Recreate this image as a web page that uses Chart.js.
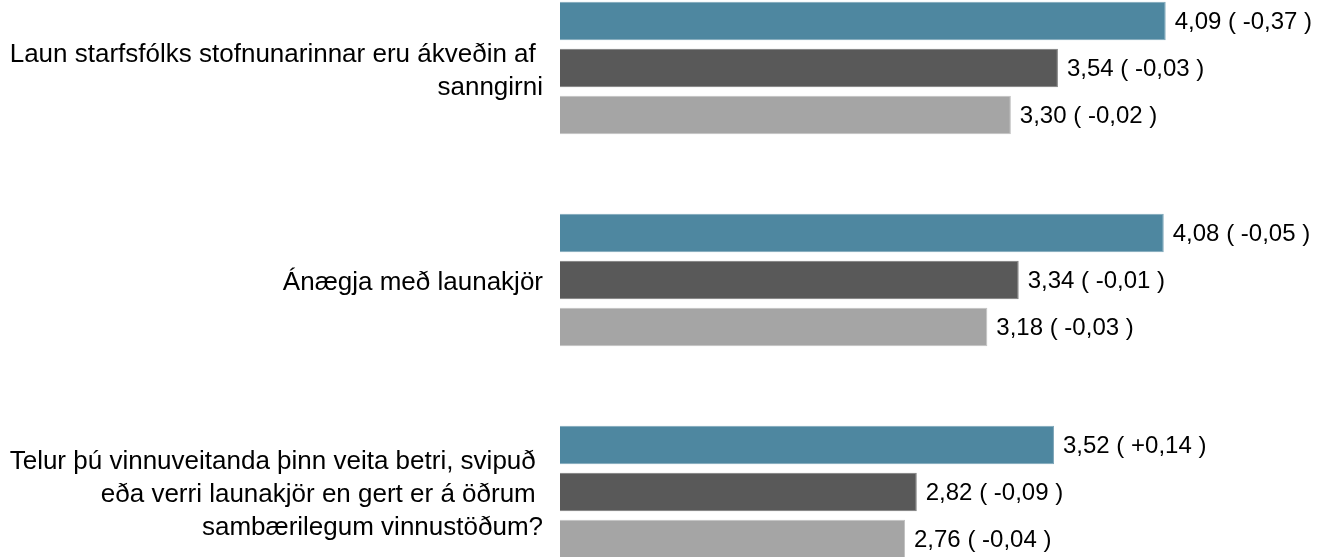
<!DOCTYPE html>
<html>
<head>
<meta charset="utf-8">
<script src="https://cdn.jsdelivr.net/npm/chart.js@4/dist/chart.umd.min.js"></script>
<style>
  html, body { margin: 0; padding: 0; background: #fff; overflow: hidden; }
</style>
</head>
<body>
<canvas id="bar-chart-grouped" width="1319" height="557"></canvas>
<script>
// spurningar (flokkar)
const categories = [
  ["Laun starfsfólks stofnunarinnar eru ákveðin af ", "sanngirni"],
  "Ánægja með launakjör",
  ["Telur þú vinnuveitanda þinn veita betri, svipuð ", "eða verri launakjör en gert er á öðrum ", "sambærilegum vinnustöðum?"]
];

// meðaltöl per röð
const seriesA = [4.09, 4.08, 3.52];
const seriesB = [3.54, 3.34, 2.82];
const seriesC = [3.30, 3.18, 2.76];

// breyting frá fyrra ári
const changeA = [-0.37, -0.05, 0.14];
const changeB = [-0.03, -0.01, -0.09];
const changeC = [-0.02, -0.03, -0.04];

const font = "'Liberation Sans', Arial, sans-serif";

function fmt(v) {
  return v.toFixed(2).replace('.', ',');
}
function fmtChange(v) {
  return (v > 0 ? '+' : '-') + fmt(Math.abs(v));
}

const valueLabels = {
  id: 'valueLabels',
  afterDatasetsDraw(chart) {
    const ctx = chart.ctx;
    ctx.save();
    ctx.font = '24px ' + font;
    ctx.fillStyle = '#000';
    ctx.textAlign = 'left';
    ctx.textBaseline = 'middle';
    chart.data.datasets.forEach((ds, i) => {
      chart.getDatasetMeta(i).data.forEach((bar, j) => {
        const txt = fmt(ds.data[j]) + ' ( ' + fmtChange(ds.changes[j]) + ' )';
        ctx.fillText(txt, bar.x + 9, bar.y + 1);
      });
    });
    ctx.restore();
  }
};

new Chart(document.getElementById("bar-chart-grouped"), {
  type: 'bar',
  data: {
    labels: categories,
    datasets: [
      {
        label: "A",
        backgroundColor: "#4e87a0",
        borderColor: "#7ea6b9",
        borderWidth: 1,
        data: seriesA,
        changes: changeA
      }, {
        label: "B",
        backgroundColor: "#595959",
        borderColor: "#7a7a7a",
        borderWidth: 1,
        data: seriesB,
        changes: changeB
      }, {
        label: "C",
        backgroundColor: "#a5a5a5",
        borderColor: "#c2c2c2",
        borderWidth: 1,
        data: seriesC,
        changes: changeC
      }
    ]
  },
  options: {
    indexAxis: 'y',
    responsive: false,
    animation: false,
    devicePixelRatio: 1,
    categoryPercentage: 0.666,
    barPercentage: 0.82,
    base: 1,
    clip: false,
    layout: { padding: { left: 0, right: 0, top: 68, bottom: 65 } },
    plugins: {
      legend: { display: false },
      title: { display: false },
      tooltip: { enabled: false }
    },
    scales: {
      x: {
        display: false,
        min: 1,
        max: 4.872
      },
      y: {
        offset: false,
        grid: { display: false, drawTicks: false },
        border: { display: false },
        ticks: {
          color: '#000',
          padding: 17,
          labelOffset: 3,
          font: { family: font, size: 26, lineHeight: 1.27 }
        },
        afterFit(scale) { scale.width = 560; }
      }
    }
  },
  plugins: [valueLabels]
});
</script>
</body>
</html>
